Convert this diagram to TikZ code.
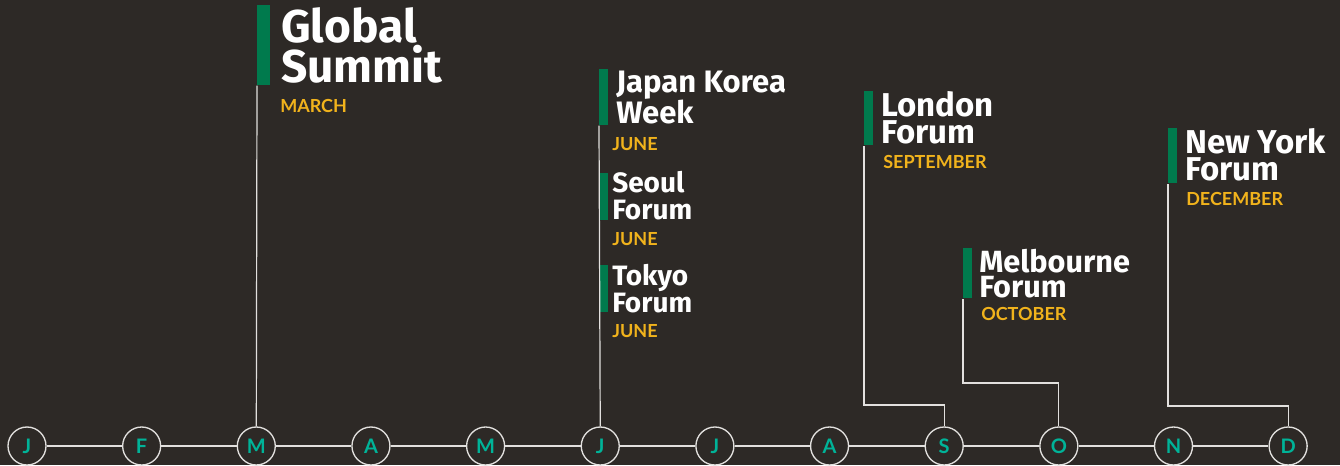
\documentclass[tikz,border=0pt]{standalone}
\usepackage{fontspec}
\setmainfont{Fira Sans}
\newfontfamily\monthfont{Lato}
\usetikzlibrary{positioning}
\definecolor{bgdark}{HTML}{2D2926}
\definecolor{flaggreen}{HTML}{007A4D}
\definecolor{monthteal}{HTML}{00B398}
\definecolor{monthgold}{HTML}{F1B31C}
\definecolor{linegray}{HTML}{E2E0DE}

\begin{document}
\begin{tikzpicture}[x=0.75pt,y=-0.75pt,
  month/.style={circle,draw=linegray,line width=1pt,fill=bgdark,minimum size=28.5pt,inner sep=0pt,text=monthteal,font=\monthfont\bfseries\fontsize{15}{15}\selectfont},
  link/.style={draw=linegray,line width=0.9pt},
  flag/.style={fill=flaggreen,inner sep=0pt,anchor=north west},
  title/.style={anchor=base west,inner sep=0pt,align=left,text=white},
  monthlab/.style={anchor=base west,inner sep=0pt,text=monthgold,font=\monthfont\bfseries\fontsize{13.5}{13.5}\selectfont}]
\useasboundingbox (0,0) rectangle (1340,465);
\fill[bgdark] (0,0) rectangle (1340,465);
% months along the bottom
\foreach \m [count=\i] in {J,F,M,A,M,J,J,A,S,O,N,D}
  \node[month] (m\i) at ({27+(\i-1)*114.65},446) {\m};
\foreach \i in {1,...,11}{
  \pgfmathtruncatemacro\nxt{\i+1}
  \draw[link] (m\i) -- (m\nxt);
}
% flags
\node[flag,minimum width=9.75pt,minimum height=60pt] (fGS) at (257,5) {};
\node[flag,minimum width=6.75pt,minimum height=42pt] (fJK) at (599,69) {};
\node[flag,minimum width=6.75pt,minimum height=35.25pt] (fSE) at (599,173) {};
\node[flag,minimum width=6.75pt,minimum height=35.25pt] (fTO) at (599,265) {};
\node[flag,minimum width=6.75pt,minimum height=40.5pt] (fLF) at (864,91) {};
\node[flag,minimum width=6.75pt,minimum height=37.5pt] (fMF) at (963,248) {};
\node[flag,minimum width=6.75pt,minimum height=41.25pt] (fNY) at (1168,128) {};
% event titles (base = last line)
\node[title,font=\bfseries\fontsize{34.5}{27.75}\selectfont] (tGS) at (281,82) {Global\\Summit};
\node[title,font=\bfseries\fontsize{23.25}{23.25}\selectfont] (tJK) at (616,123) {Japan Korea\\Week};
\node[title,font=\bfseries\fontsize{21}{19.9}\selectfont] (tSE) at (612,219) {Seoul\\Forum};
\node[title,font=\bfseries\fontsize{21}{19.9}\selectfont] (tTO) at (612,312) {Tokyo\\Forum};
\node[title,font=\bfseries\fontsize{24.75}{20.25}\selectfont] (tLF) at (881,143) {London\\Forum};
\node[title,font=\bfseries\fontsize{23}{18.75}\selectfont] (tMF) at (979,297) {Melbourne\\Forum};
\node[title,font=\bfseries\fontsize{24.75}{20.25}\selectfont] (tNY) at (1185,180) {New York\\Forum};
% month labels
\node[monthlab] (lGS) at (280,112) {MARCH};
\node[monthlab] (lJK) at (612,150) {JUNE};
\node[monthlab] (lSE) at (612,245) {JUNE};
\node[monthlab] (lTO) at (612,337) {JUNE};
\node[monthlab] (lLF) at (883,168) {SEPTEMBER};
\node[monthlab] (lMF) at (981,320) {OCTOBER};
\node[monthlab] (lNY) at (1186,205) {DECEMBER};
% elbow levels
\coordinate (elS) at (0,405);
\coordinate (elO) at (0,383);
\coordinate (elD) at (0,406);
% connectors
\draw[link] (m3.north) -- (fGS.south west);
\draw[link] (m6.north) -- (fJK.south west);
\draw[link] (m9.north) -- (m9.north |- elS) -| (fLF.south west);
\draw[link] (m10.north) -- (m10.north |- elO) -| (fMF.south west);
\draw[link] (m12.north) -- (m12.north |- elD) -| (fNY.south west);
\end{tikzpicture}
\end{document}
